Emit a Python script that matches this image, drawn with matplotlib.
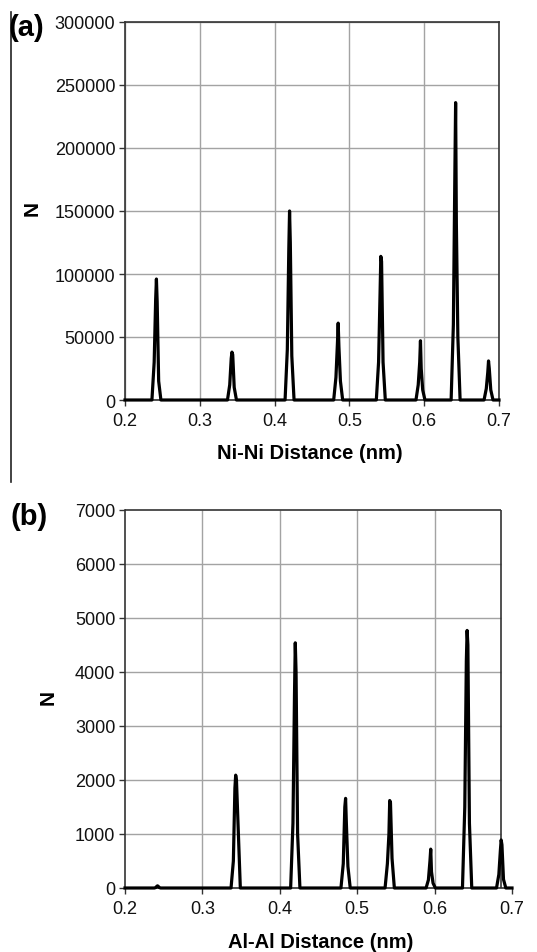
import matplotlib
matplotlib.use("Agg")
import matplotlib.pyplot as plt

plt.rcParams['font.family'] = ['Liberation Sans', 'DejaVu Sans']

# ---------------- data ----------------
ni_distance = [0.200,
    0.236, 0.239, 0.241, 0.242, 0.243, 0.245, 0.248,
    0.337, 0.340, 0.342, 0.343, 0.344, 0.346, 0.349,
    0.414, 0.417, 0.419, 0.420, 0.421, 0.423, 0.426,
    0.479, 0.482, 0.484, 0.485, 0.486, 0.488, 0.491,
    0.536, 0.539, 0.541, 0.542, 0.543, 0.545, 0.548,
    0.589, 0.592, 0.594, 0.595, 0.596, 0.598, 0.601,
    0.636, 0.639, 0.641, 0.642, 0.643, 0.645, 0.648,
    0.680, 0.683, 0.685, 0.686, 0.687, 0.689, 0.692,
    0.700]
ni_count = [0,
    0, 30000, 80000, 96000, 78000, 15000, 0,
    0, 12000, 33000, 38000, 36000, 10000, 0,
    0, 40000, 120000, 150000, 125000, 35000, 0,
    0, 18000, 45000, 61000, 42000, 15000, 0,
    0, 30000, 85000, 114000, 110000, 30000, 0,
    0, 12000, 30000, 47000, 25000, 8000, 0,
    0, 60000, 180000, 236000, 140000, 50000, 0,
    0, 9000, 22000, 31000, 25000, 8000, 0,
    0]

al_distance = [0.200,
    0.238, 0.240, 0.241, 0.242, 0.243, 0.244, 0.246,
    0.337, 0.340, 0.342, 0.343, 0.344, 0.346, 0.349,
    0.414, 0.417, 0.419, 0.420, 0.421, 0.423, 0.426,
    0.479, 0.482, 0.484, 0.485, 0.486, 0.488, 0.491,
    0.536, 0.539, 0.541, 0.542, 0.543, 0.545, 0.548,
    0.589, 0.592, 0.594, 0.595, 0.596, 0.598, 0.601,
    0.636, 0.639, 0.641, 0.642, 0.643, 0.645, 0.648,
    0.680, 0.683, 0.685, 0.686, 0.687, 0.689, 0.692,
    0.700]
al_count = [0,
    0, 10, 30, 40, 30, 10, 0,
    0, 500, 1850, 2090, 2000, 1200, 0,
    0, 1200, 3600, 4540, 4000, 1000, 0,
    0, 450, 1500, 1660, 1200, 400, 0,
    0, 450, 1000, 1620, 1580, 550, 0,
    0, 150, 500, 720, 300, 90, 0,
    0, 1500, 4200, 4770, 4500, 1200, 0,
    0, 250, 700, 890, 800, 160, 0,
    0]

x_ticks = [0.2, 0.3, 0.4, 0.5, 0.6, 0.7]
x_tick_labels = ['0.2', '0.3', '0.4', '0.5', '0.6', '0.7']
ni_y_ticks = [0, 50000, 100000, 150000, 200000, 250000, 300000]
ni_y_tick_labels = ['0', '50000', '100000', '150000', '200000', '250000', '300000']
al_y_ticks = [0, 1000, 2000, 3000, 4000, 5000, 6000, 7000]
al_y_tick_labels = ['0', '1000', '2000', '3000', '4000', '5000', '6000', '7000']

# ---------------- styling ----------------
W, H = 537, 953
fig = plt.figure(figsize=(W / 100, H / 100), dpi=100)
grid_c = '#a3a3a3'
frame_c = '#333333'
tick_fs = 13
label_fs = 14.5
line_w = 2.3

def style_axis(ax):
    ax.tick_params(axis='both', direction='out', length=4, width=1, color=frame_c,
                   labelsize=tick_fs, labelcolor='#111111')
    ax.tick_params(axis='y', pad=3)
    ax.tick_params(axis='x', pad=5)

# ---------------- panel (a) ----------------
axa = fig.add_axes([125 / W, 1 - 401 / H, (499 - 125) / W, (401 - 23) / H])
axa.plot(ni_distance, ni_count, color='black', lw=line_w, clip_on=False, zorder=3)
axa.set_xlim(0.2, 0.7)
axa.set_ylim(0, 300000)
axa.set_xticks(x_ticks, x_tick_labels)
axa.set_yticks(ni_y_ticks, ni_y_tick_labels)
axa.grid(True, color=grid_c, lw=1)
axa.set_axisbelow(True)
for s in axa.spines.values():
    s.set_color(frame_c)
    s.set_linewidth(1.2)
style_axis(axa)
axa.set_xlabel('Ni-Ni Distance (nm)', fontsize=label_fs, fontweight='bold', va='top')
axa.xaxis.set_label_coords(0.495, -(444 - 401) / 378)
axa.set_ylabel('N', fontsize=15, fontweight='bold', va='center', rotation=90)
axa.yaxis.set_label_coords((32 - 125) / 374, (401 - 209) / 378)

# ---------------- panel (b) ----------------
frame_right = 0.6864
axb = fig.add_axes([125 / W, 1 - 889 / H, (512 - 125) / W, (889 - 511) / H])
axb.set_xlim(0.2, 0.7)
axb.set_ylim(0, 7000)
axb.set_xticks(x_ticks, x_tick_labels)
axb.set_yticks(al_y_ticks, al_y_tick_labels)
axb.spines['top'].set_visible(False)
axb.spines['right'].set_visible(False)
for s in ('left', 'bottom'):
    axb.spines[s].set_color(frame_c)
    axb.spines[s].set_linewidth(1.2)
axb.hlines(al_y_ticks[1:-1], 0.2, frame_right, color=grid_c, lw=1, zorder=1)
axb.vlines(x_ticks[1:-1], 0, 7000, color=grid_c, lw=1, zorder=1)
axb.hlines([7000], 0.2, frame_right, color=frame_c, lw=1.2, zorder=2, clip_on=False)
axb.vlines([frame_right], 0, 7000, color=frame_c, lw=1.2, zorder=2, clip_on=False)
axb.plot(al_distance, al_count, color='black', lw=line_w, clip_on=False, zorder=3)
style_axis(axb)
axb.set_xlabel('Al-Al Distance (nm)', fontsize=label_fs, fontweight='bold', va='top')
axb.xaxis.set_label_coords((321 - 125) / 387, -(933 - 889) / 378)
axb.set_ylabel('N', fontsize=15, fontweight='bold', va='center', rotation=90)
axb.yaxis.set_label_coords((48 - 125) / 387, (889 - 698) / 378)

# ---------------- panel letters and left rule ----------------
fig.text(26.5 / W, 1 - 28 / H, '(a)', fontsize=21, fontweight='bold', ha='center', va='center')
fig.text(29 / W, 1 - 517 / H, '(b)', fontsize=21, fontweight='bold', ha='center', va='center')
fig.add_artist(plt.Line2D([11 / W, 11 / W], [1 - 13 / H, 1 - 483 / H], color='#222222', lw=1.2))

fig.savefig('out.png', dpi=100)
